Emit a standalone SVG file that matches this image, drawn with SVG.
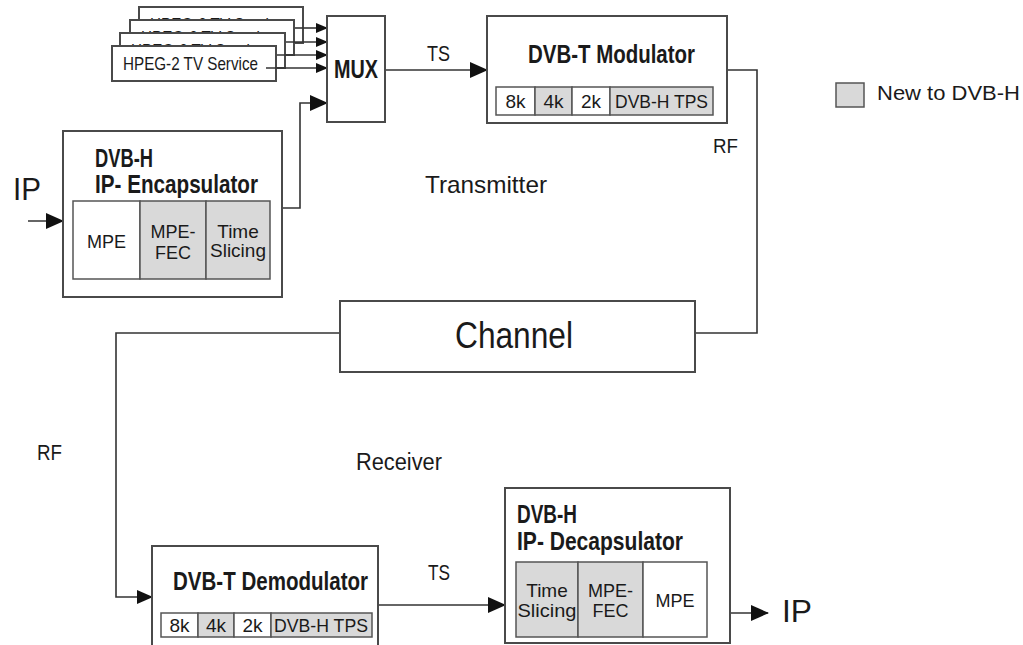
<svg xmlns="http://www.w3.org/2000/svg" width="1023" height="645" viewBox="0 0 1023 645">
<style>
text{font-family:"Liberation Sans Narrow","Liberation Sans",Arial,sans-serif;fill:#1a1a1a}
.w{font-family:"Liberation Sans",Arial,sans-serif}
.b{font-weight:bold}
.box{fill:#fff;stroke:#4a4a4a;stroke-width:2}
.sub{fill:#fff;stroke:#555;stroke-width:1.5}
.gray{fill:#d9d9d9;stroke:#555;stroke-width:1.5}
.ln{fill:none;stroke:#333;stroke-width:1.6}
.c{text-anchor:middle}
</style>
<defs>
<marker id="big" markerUnits="userSpaceOnUse" markerWidth="18" markerHeight="16" refX="17" refY="8" orient="auto"><path d="M0,0 L18,8 L0,16 z" fill="#111"/></marker>
<marker id="med" markerUnits="userSpaceOnUse" markerWidth="16" markerHeight="14" refX="15" refY="7" orient="auto"><path d="M0,0 L16,7 L0,14 z" fill="#111"/></marker>
<marker id="small" markerUnits="userSpaceOnUse" markerWidth="12" markerHeight="10" refX="11" refY="5" orient="auto"><path d="M0,0 L12,5 L0,10 z" fill="#111"/></marker>
<clipPath id="cl4"><rect x="139" y="7" width="164" height="13"/></clipPath>
<clipPath id="cl3"><rect x="130" y="20" width="164" height="13"/></clipPath>
<clipPath id="cl2"><rect x="120" y="33" width="165" height="13"/></clipPath>
</defs>
<rect width="1023" height="645" fill="#fff"/>

<g id="services">
<rect class="box" x="139" y="7" width="164" height="36"/>
<g clip-path="url(#cl4)"><text x="150" y="31" font-size="19" textLength="135" lengthAdjust="spacingAndGlyphs">HPEG-2 TV Service</text></g>
<path class="ln" d="M295,28 H327" marker-end="url(#small)"/>
<rect class="box" x="130" y="20" width="164" height="35"/>
<g clip-path="url(#cl3)"><text x="141" y="44" font-size="19" textLength="135" lengthAdjust="spacingAndGlyphs">HPEG-2 TV Service</text></g>
<path class="ln" d="M286,42 H327" marker-end="url(#small)"/>
<rect class="box" x="120" y="33" width="165" height="35"/>
<g clip-path="url(#cl2)"><text x="131" y="57" font-size="19" textLength="135" lengthAdjust="spacingAndGlyphs">HPEG-2 TV Service</text></g>
<path class="ln" d="M277,55 H327" marker-end="url(#small)"/>
<rect class="box" x="112" y="46" width="164" height="35"/>
<text x="123" y="70" font-size="19" textLength="135" lengthAdjust="spacingAndGlyphs">HPEG-2 TV Service</text>
<path class="ln" d="M266,68 H327" marker-end="url(#small)"/>
</g>

<g id="connectors">
<path class="ln" d="M282,208 H300 V103 H327" marker-end="url(#big)"/>
<path class="ln" d="M385,70 H487" marker-end="url(#big)"/>
<path class="ln" d="M727,70 H757 V333 H695"/>
<path class="ln" d="M340,333 H116 V597 H152" marker-end="url(#med)"/>
<path class="ln" d="M28,221 H63" marker-end="url(#big)"/>
<path class="ln" d="M378,605 H505" marker-end="url(#big)"/>
<path class="ln" d="M730,613 H768" marker-end="url(#big)"/>
</g>

<g id="labels">
<text class="w" x="427" y="61" font-size="22" textLength="23" lengthAdjust="spacingAndGlyphs">TS</text>
<text class="w" x="713" y="153" font-size="21" textLength="25" lengthAdjust="spacingAndGlyphs">RF</text>
<text class="w" x="37" y="460" font-size="22" textLength="25" lengthAdjust="spacingAndGlyphs">RF</text>
<text class="w" x="425" y="193" font-size="24" textLength="122" lengthAdjust="spacingAndGlyphs">Transmitter</text>
<text class="w" x="356" y="470" font-size="23" textLength="86" lengthAdjust="spacingAndGlyphs">Receiver</text>
<text class="w" x="428" y="580" font-size="22" textLength="22" lengthAdjust="spacingAndGlyphs">TS</text>
<text class="w" x="13" y="200" font-size="32" textLength="28" lengthAdjust="spacingAndGlyphs">IP</text>
<text class="w" x="782" y="622" font-size="32" textLength="30" lengthAdjust="spacingAndGlyphs">IP</text>
</g>

<g id="mux">
<rect class="box" x="327" y="16" width="58" height="106"/>
<text class="b c" x="356" y="78" font-size="26" textLength="44" lengthAdjust="spacingAndGlyphs">MUX</text>
</g>

<g id="modulator">
<rect class="box" x="487" y="16" width="240" height="107"/>
<text class="b" x="528" y="63" font-size="25" textLength="167" lengthAdjust="spacingAndGlyphs">DVB-T Modulator</text>
<rect class="sub" x="496" y="87" width="39" height="28"/>
<rect class="gray" x="535" y="87" width="37" height="28"/>
<rect class="sub" x="572" y="87" width="38" height="28"/>
<rect class="gray" x="610" y="87" width="103" height="28"/>
<text class="c" x="515.5" y="108" font-size="19">8k</text>
<text class="c" x="553.5" y="108" font-size="19">4k</text>
<text class="c" x="591" y="108" font-size="19">2k</text>
<text x="615" y="108" font-size="19" textLength="93" lengthAdjust="spacingAndGlyphs">DVB-H TPS</text>
</g>

<g id="legend">
<rect class="gray" x="836" y="83" width="28" height="24" stroke="#777"/>
<text class="w" x="877" y="100" font-size="20" textLength="143" lengthAdjust="spacingAndGlyphs">New to DVB-H</text>
</g>

<g id="encapsulator">
<rect class="box" x="63" y="131" width="219" height="166"/>
<text class="b" x="95" y="167" font-size="25" textLength="58" lengthAdjust="spacingAndGlyphs">DVB-H</text>
<text class="b" x="95" y="193" font-size="25" textLength="163" lengthAdjust="spacingAndGlyphs">IP- Encapsulator</text>
<rect class="sub" x="73" y="201" width="67" height="78"/>
<rect class="gray" x="140" y="201" width="66" height="78"/>
<rect class="gray" x="206" y="201" width="64" height="78"/>
<text class="c" x="106.5" y="248" font-size="18">MPE</text>
<text class="c" x="173" y="238" font-size="18">MPE-</text>
<text class="c" x="173" y="259" font-size="18">FEC</text>
<text class="c" x="238" y="238" font-size="19">Time</text>
<text class="c" x="238" y="257" font-size="19">Slicing</text>
</g>

<g id="channel">
<rect class="box" x="340" y="301" width="355" height="71"/>
<text class="c" x="514" y="348" font-size="36" textLength="118" lengthAdjust="spacingAndGlyphs">Channel</text>
</g>

<g id="demodulator">
<rect class="box" x="152" y="546" width="226" height="110"/>
<text class="b" x="173" y="590" font-size="25" textLength="195" lengthAdjust="spacingAndGlyphs">DVB-T Demodulator</text>
<rect class="sub" x="161" y="613" width="37" height="24"/>
<rect class="gray" x="198" y="613" width="36" height="24"/>
<rect class="sub" x="234" y="613" width="37" height="24"/>
<rect class="gray" x="271" y="613" width="101" height="24"/>
<text class="c" x="179.5" y="632" font-size="19">8k</text>
<text class="c" x="216" y="632" font-size="19">4k</text>
<text class="c" x="252.5" y="632" font-size="19">2k</text>
<text x="274" y="632" font-size="19" textLength="94" lengthAdjust="spacingAndGlyphs">DVB-H TPS</text>
</g>

<g id="decapsulator">
<rect class="box" x="505" y="488" width="225" height="155"/>
<text class="b" x="517" y="523" font-size="25" textLength="60" lengthAdjust="spacingAndGlyphs">DVB-H</text>
<text class="b" x="517" y="550" font-size="25" textLength="166" lengthAdjust="spacingAndGlyphs">IP- Decapsulator</text>
<rect class="gray" x="516" y="562" width="62" height="75"/>
<rect class="gray" x="578" y="562" width="65" height="75"/>
<rect class="sub" x="643" y="562" width="64" height="75"/>
<text class="c" x="547" y="597" font-size="19">Time</text>
<text class="c" x="547" y="617" font-size="19" textLength="59" lengthAdjust="spacingAndGlyphs">Slicing</text>
<text class="c" x="610.5" y="597" font-size="18">MPE-</text>
<text class="c" x="610.5" y="617" font-size="18">FEC</text>
<text class="c" x="675" y="607" font-size="18">MPE</text>
</g>
</svg>
